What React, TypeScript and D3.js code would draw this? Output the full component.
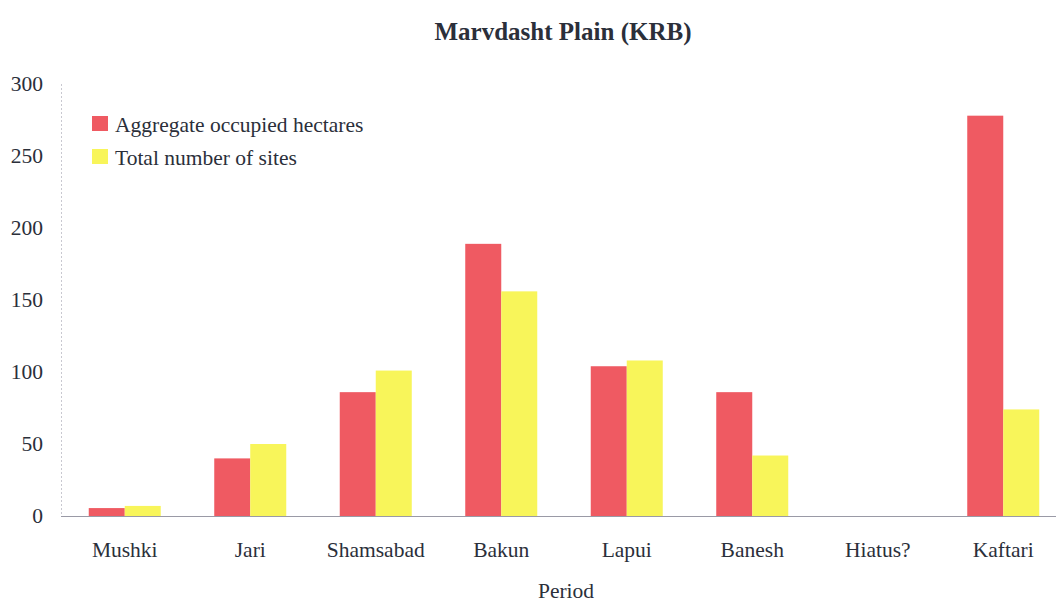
import * as React from 'react';
import * as d3 from 'd3';

const periods = ['Mushki', 'Jari', 'Shamsabad', 'Bakun', 'Lapui', 'Banesh', 'Hiatus?', 'Kaftari'];
const hectares = [5.5, 40, 86, 189, 104, 86, 0, 278];
const sites = [7, 50, 101, 156, 108, 42, 0, 74];
const seriesNames = ['Aggregate occupied hectares', 'Total number of sites'];
const seriesColors = ['#ef5a62', '#f8f55a'];
const yTicks = [0, 50, 100, 150, 200, 250, 300];

const W = 1056;
const H = 603;
const FONT = "'Liberation Serif', 'DejaVu Serif', serif";
const TEXT = '#2b2f3a';

const App = () => {
  const x = d3.scaleBand<string>().domain(periods).range([62, 1066]).paddingInner(0).paddingOuter(0);
  const inner = d3.scaleBand<number>().domain([0, 1]).range([0, x.bandwidth()]).paddingOuter(0.743).paddingInner(0);
  const y = d3.scaleLinear().domain([0, 300]).range([516, 84]);
  const series = [hectares, sites];

  return (
    <svg width={W} height={H} style={{position: 'absolute', left: 0, top: 0, background: '#fff', fontFamily: FONT}}>
      <text x={563} y={31} dy="0.35em" textAnchor="middle" fontSize={25} fontWeight="bold" fill={TEXT}>Marvdasht Plain (KRB)</text>
      <line x1={61.5} x2={61.5} y1={y(300)} y2={y(0)} stroke="#c8c8d0" strokeDasharray="2,2" />
      {yTicks.map((t) => (
        <text key={t} x={43} y={y(t)} dy="0.33em" textAnchor="end" fontSize={21.5} fill={TEXT}>{t}</text>
      ))}
      {periods.map((p, i) => (
        <g key={p} transform={`translate(${x(p)},0)`}>
          {series.map((s, j) => (
            <rect key={j} x={inner(j)} y={y(s[i])} width={inner.bandwidth()} height={y(0) - y(s[i])} fill={seriesColors[j]} />
          ))}
        </g>
      ))}
      <line x1={61} x2={W} y1={516.5} y2={516.5} stroke="#9a9aa6" strokeWidth={1} />
      {periods.map((p) => (
        <text key={p} x={(x(p) ?? 0) + x.bandwidth() / 2} y={549} dy="0.35em" textAnchor="middle" fontSize={21.5} fill={TEXT}>{p}</text>
      ))}
      <text x={566} y={590} dy="0.35em" textAnchor="middle" fontSize={21.5} fill={TEXT}>Period</text>
      {seriesNames.map((n, j) => (
        <g key={n} transform={`translate(92,${116 + j * 33})`}>
          <rect x={0} y={0} width={16} height={15} fill={seriesColors[j]} />
          <text x={23} y={8} dy="0.35em" fontSize={21.5} fill={TEXT}>{n}</text>
        </g>
      ))}
    </svg>
  );
};

export default App;
